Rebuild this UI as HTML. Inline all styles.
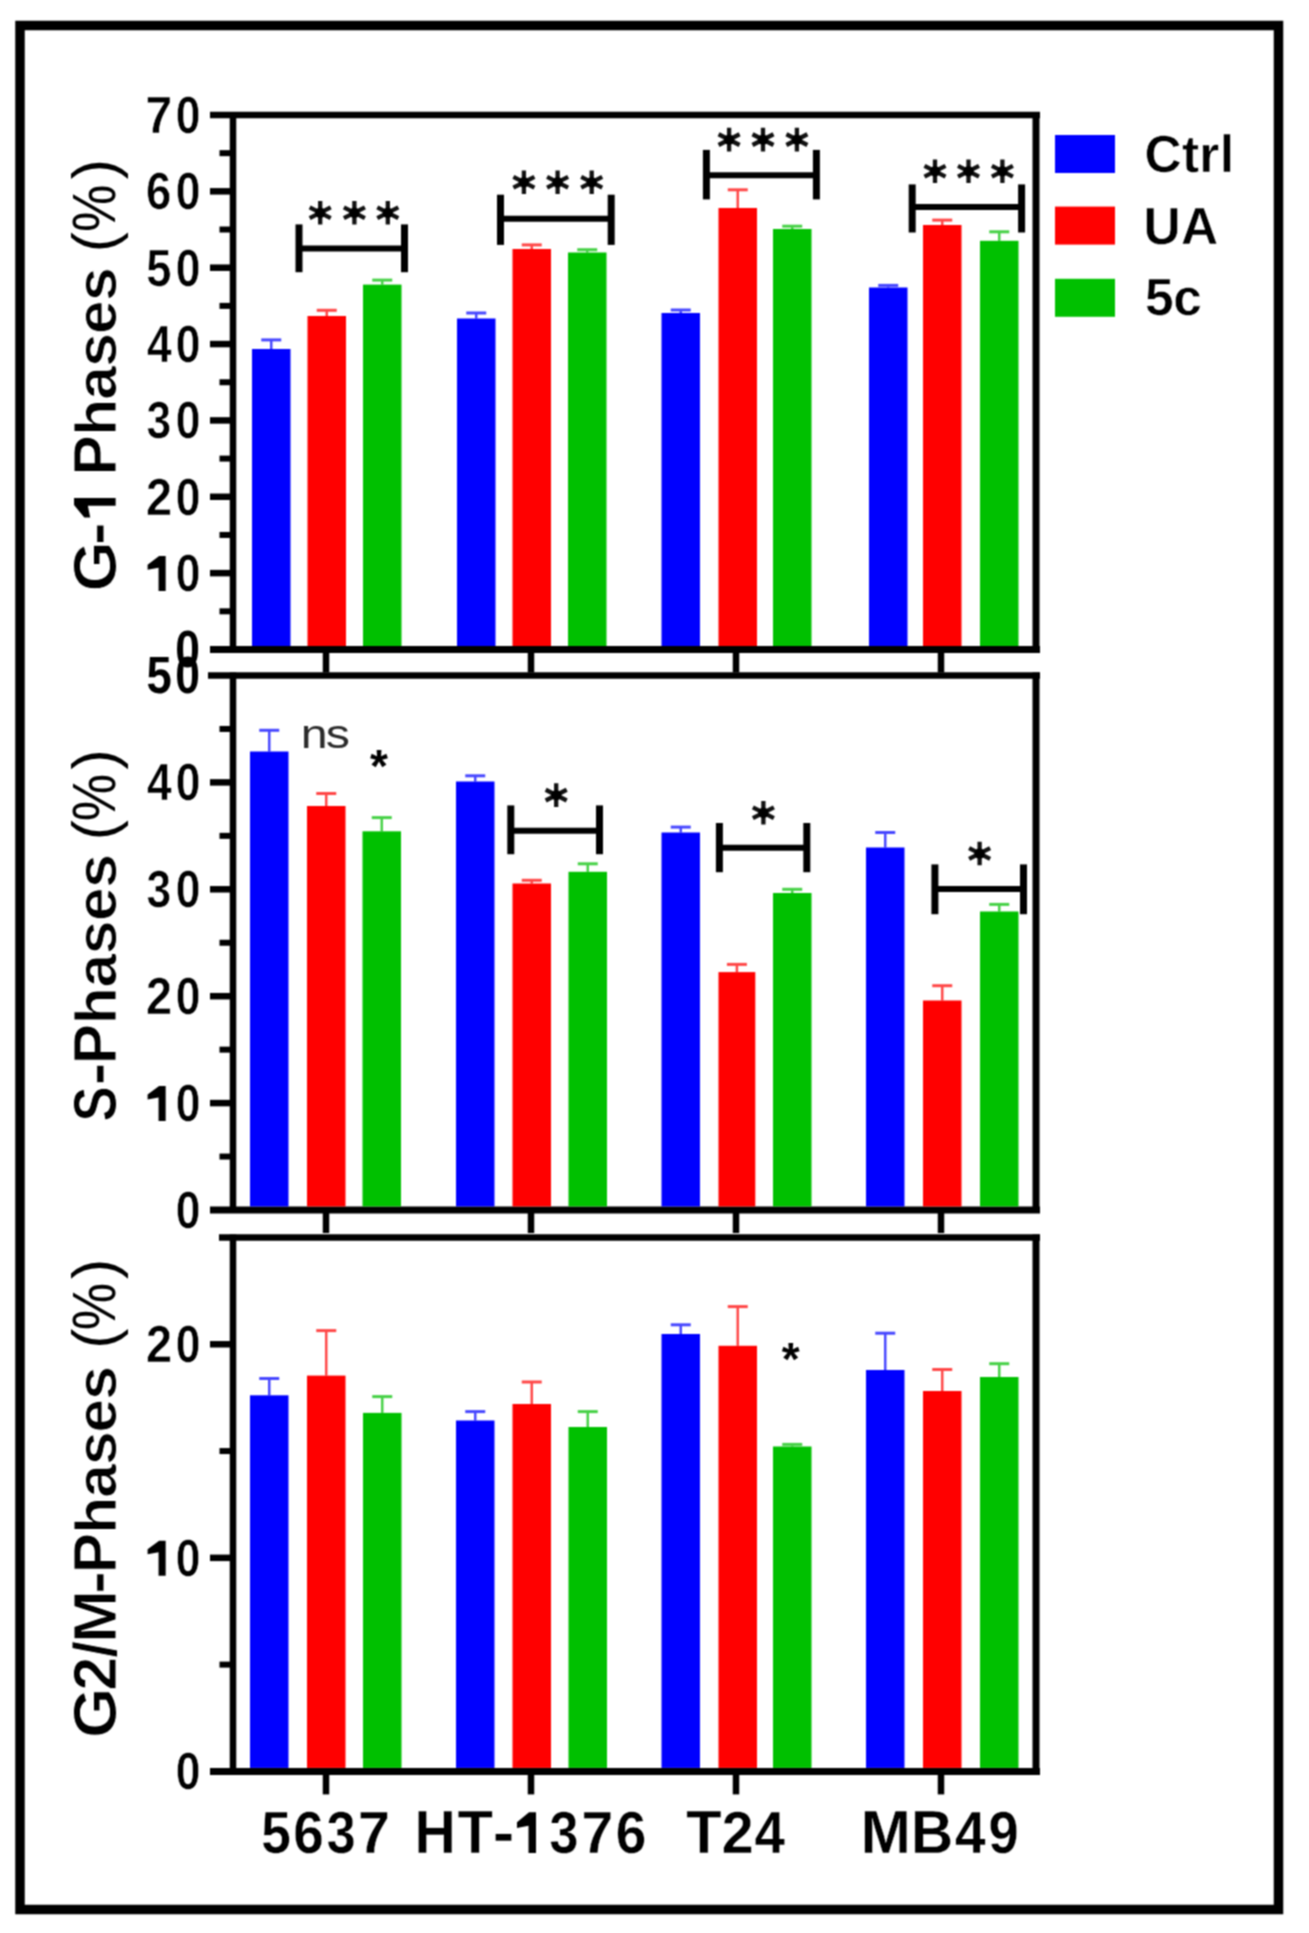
<!DOCTYPE html><html><head><meta charset="utf-8"><style>html,body{margin:0;padding:0;background:#fff;}svg{display:block}text{font-family:"Liberation Sans",sans-serif;}</style></head><body>
<svg width="1309" height="1933" viewBox="0 0 1309 1933">
<defs><filter id="bl" x="0" y="0" width="1309" height="1933" filterUnits="userSpaceOnUse" color-interpolation-filters="sRGB"><feConvolveMatrix order="3" kernelMatrix="1 2 1 2 4 2 1 2 1" divisor="16" edgeMode="duplicate"/></filter></defs>
<rect x="0" y="0" width="1309" height="1933" fill="#fff"/>
<g filter="url(#bl)">
<rect x="20" y="25.5" width="1258.5" height="1884" fill="none" stroke="#000" stroke-width="9.5"/>
<line x1="210" y1="115" x2="1040" y2="115" stroke="#000" stroke-width="6.5" stroke-linecap="butt"/>
<line x1="210" y1="649.5" x2="1040" y2="649.5" stroke="#000" stroke-width="7" stroke-linecap="butt"/>
<line x1="233" y1="112" x2="233" y2="652.5" stroke="#000" stroke-width="6.5" stroke-linecap="butt"/>
<line x1="1036" y1="112" x2="1036" y2="652.5" stroke="#000" stroke-width="7" stroke-linecap="butt"/>
<line x1="210" y1="573.14" x2="233" y2="573.14" stroke="#000" stroke-width="6.5" stroke-linecap="butt"/>
<line x1="210" y1="496.78" x2="233" y2="496.78" stroke="#000" stroke-width="6.5" stroke-linecap="butt"/>
<line x1="210" y1="420.41999999999996" x2="233" y2="420.41999999999996" stroke="#000" stroke-width="6.5" stroke-linecap="butt"/>
<line x1="210" y1="344.06" x2="233" y2="344.06" stroke="#000" stroke-width="6.5" stroke-linecap="butt"/>
<line x1="210" y1="267.7" x2="233" y2="267.7" stroke="#000" stroke-width="6.5" stroke-linecap="butt"/>
<line x1="210" y1="191.33999999999997" x2="233" y2="191.33999999999997" stroke="#000" stroke-width="6.5" stroke-linecap="butt"/>
<line x1="219.5" y1="611.32" x2="233" y2="611.32" stroke="#000" stroke-width="6" stroke-linecap="butt"/>
<line x1="219.5" y1="534.96" x2="233" y2="534.96" stroke="#000" stroke-width="6" stroke-linecap="butt"/>
<line x1="219.5" y1="458.6" x2="233" y2="458.6" stroke="#000" stroke-width="6" stroke-linecap="butt"/>
<line x1="219.5" y1="382.24" x2="233" y2="382.24" stroke="#000" stroke-width="6" stroke-linecap="butt"/>
<line x1="219.5" y1="305.88" x2="233" y2="305.88" stroke="#000" stroke-width="6" stroke-linecap="butt"/>
<line x1="219.5" y1="229.51999999999998" x2="233" y2="229.51999999999998" stroke="#000" stroke-width="6" stroke-linecap="butt"/>
<line x1="219.5" y1="153.15999999999997" x2="233" y2="153.15999999999997" stroke="#000" stroke-width="6" stroke-linecap="butt"/>
<g font-size="51" font-weight="bold" fill="#000"><text x="173.50" y="667.40" transform="matrix(0.8700,0,0,1.0000,24.394,0.000)">0</text></g>
<g font-size="51" font-weight="bold" fill="#000" stroke="#fff" stroke-width="0.6"><path d="M760,0L500,0L500,940L100,860L100,1060L520,1409L760,1409Z" transform="matrix(0.02739,0,0,-0.02490,144.861,591.040)"/><text x="173.80" y="591.04" transform="matrix(0.8700,0,0,1.0000,24.433,0.000)">0</text></g>
<g font-size="51" font-weight="bold" fill="#000" stroke="#fff" stroke-width="0.6"><text x="144.85" y="514.68" transform="matrix(0.9200,0,0,1.0000,12.712,0.000)">2</text><text x="173.80" y="514.68" transform="matrix(0.8700,0,0,1.0000,24.433,0.000)">0</text></g>
<g font-size="51" font-weight="bold" fill="#000" stroke="#fff" stroke-width="0.6"><text x="144.78" y="438.32" transform="matrix(0.8700,0,0,1.0000,20.622,0.000)">3</text><text x="173.80" y="438.32" transform="matrix(0.8700,0,0,1.0000,24.433,0.000)">0</text></g>
<g font-size="51" font-weight="bold" fill="#000" stroke="#fff" stroke-width="0.6"><text x="145.05" y="361.96" transform="matrix(0.8700,0,0,1.0000,20.733,0.000)">4</text><text x="173.80" y="361.96" transform="matrix(0.8700,0,0,1.0000,24.433,0.000)">0</text></g>
<g font-size="51" font-weight="bold" fill="#000" stroke="#fff" stroke-width="0.6"><text x="144.64" y="285.60" transform="matrix(0.8900,0,0,1.0000,17.478,0.000)">5</text><text x="173.80" y="285.60" transform="matrix(0.8700,0,0,1.0000,24.433,0.000)">0</text></g>
<g font-size="51" font-weight="bold" fill="#000" stroke="#fff" stroke-width="0.6"><text x="144.38" y="209.24" transform="matrix(0.8900,0,0,1.0000,17.443,0.000)">6</text><text x="173.80" y="209.24" transform="matrix(0.8700,0,0,1.0000,24.433,0.000)">0</text></g>
<g font-size="51" font-weight="bold" fill="#000" stroke="#fff" stroke-width="0.6"><text x="144.69" y="132.88" transform="matrix(0.9400,0,0,1.0000,9.531,0.000)">7</text><text x="173.80" y="132.88" transform="matrix(0.8700,0,0,1.0000,24.433,0.000)">0</text></g>
<line x1="326" y1="652.5" x2="326" y2="672.5" stroke="#000" stroke-width="6.5" stroke-linecap="butt"/>
<line x1="531" y1="652.5" x2="531" y2="672.5" stroke="#000" stroke-width="6.5" stroke-linecap="butt"/>
<line x1="736" y1="652.5" x2="736" y2="672.5" stroke="#000" stroke-width="6.5" stroke-linecap="butt"/>
<line x1="941" y1="652.5" x2="941" y2="672.5" stroke="#000" stroke-width="6.5" stroke-linecap="butt"/>
<line x1="208" y1="675.5" x2="1040" y2="675.5" stroke="#000" stroke-width="6.5" stroke-linecap="butt"/>
<line x1="210" y1="1210" x2="1040" y2="1210" stroke="#000" stroke-width="7" stroke-linecap="butt"/>
<line x1="233" y1="672.5" x2="233" y2="1213" stroke="#000" stroke-width="6.5" stroke-linecap="butt"/>
<line x1="1036" y1="672.5" x2="1036" y2="1213" stroke="#000" stroke-width="7" stroke-linecap="butt"/>
<line x1="210" y1="1103.1" x2="233" y2="1103.1" stroke="#000" stroke-width="6.5" stroke-linecap="butt"/>
<line x1="210" y1="996.2" x2="233" y2="996.2" stroke="#000" stroke-width="6.5" stroke-linecap="butt"/>
<line x1="210" y1="889.3" x2="233" y2="889.3" stroke="#000" stroke-width="6.5" stroke-linecap="butt"/>
<line x1="210" y1="782.4" x2="233" y2="782.4" stroke="#000" stroke-width="6.5" stroke-linecap="butt"/>
<line x1="219.5" y1="1156.55" x2="233" y2="1156.55" stroke="#000" stroke-width="6" stroke-linecap="butt"/>
<line x1="219.5" y1="1049.65" x2="233" y2="1049.65" stroke="#000" stroke-width="6" stroke-linecap="butt"/>
<line x1="219.5" y1="942.75" x2="233" y2="942.75" stroke="#000" stroke-width="6" stroke-linecap="butt"/>
<line x1="219.5" y1="835.85" x2="233" y2="835.85" stroke="#000" stroke-width="6" stroke-linecap="butt"/>
<line x1="219.5" y1="728.95" x2="233" y2="728.95" stroke="#000" stroke-width="6" stroke-linecap="butt"/>
<g font-size="51" font-weight="bold" fill="#000" stroke="#fff" stroke-width="0.6"><text x="173.80" y="1227.90" transform="matrix(0.8700,0,0,1.0000,24.433,0.000)">0</text></g>
<g font-size="51" font-weight="bold" fill="#000" stroke="#fff" stroke-width="0.6"><path d="M760,0L500,0L500,940L100,860L100,1060L520,1409L760,1409Z" transform="matrix(0.02739,0,0,-0.02490,144.861,1121.000)"/><text x="173.80" y="1121.00" transform="matrix(0.8700,0,0,1.0000,24.433,0.000)">0</text></g>
<g font-size="51" font-weight="bold" fill="#000" stroke="#fff" stroke-width="0.6"><text x="144.85" y="1014.10" transform="matrix(0.9200,0,0,1.0000,12.712,0.000)">2</text><text x="173.80" y="1014.10" transform="matrix(0.8700,0,0,1.0000,24.433,0.000)">0</text></g>
<g font-size="51" font-weight="bold" fill="#000" stroke="#fff" stroke-width="0.6"><text x="144.78" y="907.20" transform="matrix(0.8700,0,0,1.0000,20.622,0.000)">3</text><text x="173.80" y="907.20" transform="matrix(0.8700,0,0,1.0000,24.433,0.000)">0</text></g>
<g font-size="51" font-weight="bold" fill="#000" stroke="#fff" stroke-width="0.6"><text x="145.05" y="800.30" transform="matrix(0.8700,0,0,1.0000,20.733,0.000)">4</text><text x="173.80" y="800.30" transform="matrix(0.8700,0,0,1.0000,24.433,0.000)">0</text></g>
<g font-size="51" font-weight="bold" fill="#000"><text x="144.94" y="693.40" transform="matrix(0.8900,0,0,1.0000,17.511,0.000)">5</text><text x="173.50" y="693.40" transform="matrix(0.8700,0,0,1.0000,24.394,0.000)">0</text></g>
<line x1="326" y1="1213" x2="326" y2="1233" stroke="#000" stroke-width="6.5" stroke-linecap="butt"/>
<line x1="531" y1="1213" x2="531" y2="1233" stroke="#000" stroke-width="6.5" stroke-linecap="butt"/>
<line x1="736" y1="1213" x2="736" y2="1233" stroke="#000" stroke-width="6.5" stroke-linecap="butt"/>
<line x1="941" y1="1213" x2="941" y2="1233" stroke="#000" stroke-width="6.5" stroke-linecap="butt"/>
<line x1="219" y1="1237.5" x2="1040" y2="1237.5" stroke="#000" stroke-width="6.5" stroke-linecap="butt"/>
<line x1="210" y1="1771.4" x2="1040" y2="1771.4" stroke="#000" stroke-width="7" stroke-linecap="butt"/>
<line x1="233" y1="1234.5" x2="233" y2="1774.4" stroke="#000" stroke-width="6.5" stroke-linecap="butt"/>
<line x1="1036" y1="1234.5" x2="1036" y2="1774.4" stroke="#000" stroke-width="7" stroke-linecap="butt"/>
<line x1="210" y1="1557.8400000000001" x2="233" y2="1557.8400000000001" stroke="#000" stroke-width="6.5" stroke-linecap="butt"/>
<line x1="210" y1="1344.28" x2="233" y2="1344.28" stroke="#000" stroke-width="6.5" stroke-linecap="butt"/>
<line x1="219.5" y1="1664.6200000000001" x2="233" y2="1664.6200000000001" stroke="#000" stroke-width="6" stroke-linecap="butt"/>
<line x1="219.5" y1="1451.06" x2="233" y2="1451.06" stroke="#000" stroke-width="6" stroke-linecap="butt"/>
<g font-size="51" font-weight="bold" fill="#000" stroke="#fff" stroke-width="0.6"><text x="173.80" y="1789.30" transform="matrix(0.8700,0,0,1.0000,24.433,0.000)">0</text></g>
<g font-size="51" font-weight="bold" fill="#000" stroke="#fff" stroke-width="0.6"><path d="M760,0L500,0L500,940L100,860L100,1060L520,1409L760,1409Z" transform="matrix(0.02739,0,0,-0.02490,144.861,1575.740)"/><text x="173.80" y="1575.74" transform="matrix(0.8700,0,0,1.0000,24.433,0.000)">0</text></g>
<g font-size="51" font-weight="bold" fill="#000" stroke="#fff" stroke-width="0.6"><text x="144.85" y="1362.18" transform="matrix(0.9200,0,0,1.0000,12.712,0.000)">2</text><text x="173.80" y="1362.18" transform="matrix(0.8700,0,0,1.0000,24.433,0.000)">0</text></g>
<line x1="326" y1="1774.4" x2="326" y2="1794.4" stroke="#000" stroke-width="6.5" stroke-linecap="butt"/>
<line x1="531" y1="1774.4" x2="531" y2="1794.4" stroke="#000" stroke-width="6.5" stroke-linecap="butt"/>
<line x1="736" y1="1774.4" x2="736" y2="1794.4" stroke="#000" stroke-width="6.5" stroke-linecap="butt"/>
<line x1="941" y1="1774.4" x2="941" y2="1794.4" stroke="#000" stroke-width="6.5" stroke-linecap="butt"/>
<rect x="252" y="349" width="38.5" height="297.0" fill="#0000ff"/>
<g opacity="0.72">
<line x1="271.25" y1="349" x2="271.25" y2="339.9" stroke="#0000ff" stroke-width="2.5" stroke-linecap="butt"/>
<line x1="261.25" y1="339.9" x2="281.25" y2="339.9" stroke="#0000ff" stroke-width="3" stroke-linecap="butt"/>
</g>
<rect x="307.5" y="316" width="38.5" height="330.0" fill="#ff0000"/>
<g opacity="0.72">
<line x1="326.75" y1="316" x2="326.75" y2="310.3" stroke="#ff0000" stroke-width="2.5" stroke-linecap="butt"/>
<line x1="316.75" y1="310.3" x2="336.75" y2="310.3" stroke="#ff0000" stroke-width="3" stroke-linecap="butt"/>
</g>
<rect x="363" y="284.6" width="38.5" height="361.4" fill="#00c000"/>
<g opacity="0.72">
<line x1="382.25" y1="284.6" x2="382.25" y2="280.1" stroke="#00c000" stroke-width="2.5" stroke-linecap="butt"/>
<line x1="372.25" y1="280.1" x2="392.25" y2="280.1" stroke="#00c000" stroke-width="3" stroke-linecap="butt"/>
</g>
<rect x="457" y="318.5" width="38.5" height="327.5" fill="#0000ff"/>
<g opacity="0.72">
<line x1="476.25" y1="318.5" x2="476.25" y2="313" stroke="#0000ff" stroke-width="2.5" stroke-linecap="butt"/>
<line x1="466.25" y1="313" x2="486.25" y2="313" stroke="#0000ff" stroke-width="3" stroke-linecap="butt"/>
</g>
<rect x="512.5" y="249" width="38.5" height="397.0" fill="#ff0000"/>
<g opacity="0.72">
<line x1="531.75" y1="249" x2="531.75" y2="244.9" stroke="#ff0000" stroke-width="2.5" stroke-linecap="butt"/>
<line x1="521.75" y1="244.9" x2="541.75" y2="244.9" stroke="#ff0000" stroke-width="3" stroke-linecap="butt"/>
</g>
<rect x="568" y="252.5" width="38.5" height="393.5" fill="#00c000"/>
<g opacity="0.72">
<line x1="587.25" y1="252.5" x2="587.25" y2="249.7" stroke="#00c000" stroke-width="2.5" stroke-linecap="butt"/>
<line x1="577.25" y1="249.7" x2="597.25" y2="249.7" stroke="#00c000" stroke-width="3" stroke-linecap="butt"/>
</g>
<rect x="661.5" y="313" width="38.5" height="333.0" fill="#0000ff"/>
<g opacity="0.72">
<line x1="680.75" y1="313" x2="680.75" y2="310" stroke="#0000ff" stroke-width="2.5" stroke-linecap="butt"/>
<line x1="670.75" y1="310" x2="690.75" y2="310" stroke="#0000ff" stroke-width="3" stroke-linecap="butt"/>
</g>
<rect x="718.5" y="208" width="38.5" height="438.0" fill="#ff0000"/>
<g opacity="0.72">
<line x1="737.75" y1="208" x2="737.75" y2="189.8" stroke="#ff0000" stroke-width="2.5" stroke-linecap="butt"/>
<line x1="727.75" y1="189.8" x2="747.75" y2="189.8" stroke="#ff0000" stroke-width="3" stroke-linecap="butt"/>
</g>
<rect x="773" y="229" width="38.5" height="417.0" fill="#00c000"/>
<g opacity="0.72">
<line x1="792.25" y1="229" x2="792.25" y2="226.2" stroke="#00c000" stroke-width="2.5" stroke-linecap="butt"/>
<line x1="782.25" y1="226.2" x2="802.25" y2="226.2" stroke="#00c000" stroke-width="3" stroke-linecap="butt"/>
</g>
<rect x="869" y="287.5" width="38.5" height="358.5" fill="#0000ff"/>
<g opacity="0.72">
<line x1="888.25" y1="287.5" x2="888.25" y2="285.4" stroke="#0000ff" stroke-width="2.5" stroke-linecap="butt"/>
<line x1="878.25" y1="285.4" x2="898.25" y2="285.4" stroke="#0000ff" stroke-width="3" stroke-linecap="butt"/>
</g>
<rect x="923" y="225" width="38.5" height="421.0" fill="#ff0000"/>
<g opacity="0.72">
<line x1="942.25" y1="225" x2="942.25" y2="220.1" stroke="#ff0000" stroke-width="2.5" stroke-linecap="butt"/>
<line x1="932.25" y1="220.1" x2="952.25" y2="220.1" stroke="#ff0000" stroke-width="3" stroke-linecap="butt"/>
</g>
<rect x="980" y="240.8" width="38.5" height="405.2" fill="#00c000"/>
<g opacity="0.72">
<line x1="999.25" y1="240.8" x2="999.25" y2="231.8" stroke="#00c000" stroke-width="2.5" stroke-linecap="butt"/>
<line x1="989.25" y1="231.8" x2="1009.25" y2="231.8" stroke="#00c000" stroke-width="3" stroke-linecap="butt"/>
</g>
<rect x="250" y="751.5" width="38.5" height="455.0" fill="#0000ff"/>
<g opacity="0.72">
<line x1="269.25" y1="751.5" x2="269.25" y2="730.3" stroke="#0000ff" stroke-width="2.5" stroke-linecap="butt"/>
<line x1="259.25" y1="730.3" x2="279.25" y2="730.3" stroke="#0000ff" stroke-width="3" stroke-linecap="butt"/>
</g>
<rect x="307" y="806" width="38.5" height="400.5" fill="#ff0000"/>
<g opacity="0.72">
<line x1="326.25" y1="806" x2="326.25" y2="793.5" stroke="#ff0000" stroke-width="2.5" stroke-linecap="butt"/>
<line x1="316.25" y1="793.5" x2="336.25" y2="793.5" stroke="#ff0000" stroke-width="3" stroke-linecap="butt"/>
</g>
<rect x="362.5" y="831.3" width="38.5" height="375.20000000000005" fill="#00c000"/>
<g opacity="0.72">
<line x1="381.75" y1="831.3" x2="381.75" y2="817.6" stroke="#00c000" stroke-width="2.5" stroke-linecap="butt"/>
<line x1="371.75" y1="817.6" x2="391.75" y2="817.6" stroke="#00c000" stroke-width="3" stroke-linecap="butt"/>
</g>
<rect x="456" y="781.5" width="38.5" height="425.0" fill="#0000ff"/>
<g opacity="0.72">
<line x1="475.25" y1="781.5" x2="475.25" y2="775.8" stroke="#0000ff" stroke-width="2.5" stroke-linecap="butt"/>
<line x1="465.25" y1="775.8" x2="485.25" y2="775.8" stroke="#0000ff" stroke-width="3" stroke-linecap="butt"/>
</g>
<rect x="512.5" y="883.5" width="38.5" height="323.0" fill="#ff0000"/>
<g opacity="0.72">
<line x1="531.75" y1="883.5" x2="531.75" y2="880.3" stroke="#ff0000" stroke-width="2.5" stroke-linecap="butt"/>
<line x1="521.75" y1="880.3" x2="541.75" y2="880.3" stroke="#ff0000" stroke-width="3" stroke-linecap="butt"/>
</g>
<rect x="568.5" y="871.8" width="38.5" height="334.70000000000005" fill="#00c000"/>
<g opacity="0.72">
<line x1="587.75" y1="871.8" x2="587.75" y2="863.8" stroke="#00c000" stroke-width="2.5" stroke-linecap="butt"/>
<line x1="577.75" y1="863.8" x2="597.75" y2="863.8" stroke="#00c000" stroke-width="3" stroke-linecap="butt"/>
</g>
<rect x="661.5" y="832.5" width="38.5" height="374.0" fill="#0000ff"/>
<g opacity="0.72">
<line x1="680.75" y1="832.5" x2="680.75" y2="827.1" stroke="#0000ff" stroke-width="2.5" stroke-linecap="butt"/>
<line x1="670.75" y1="827.1" x2="690.75" y2="827.1" stroke="#0000ff" stroke-width="3" stroke-linecap="butt"/>
</g>
<rect x="718.5" y="972.1" width="36.8" height="234.39999999999998" fill="#ff0000"/>
<g opacity="0.72">
<line x1="736.9" y1="972.1" x2="736.9" y2="964.4" stroke="#ff0000" stroke-width="2.5" stroke-linecap="butt"/>
<line x1="726.9" y1="964.4" x2="746.9" y2="964.4" stroke="#ff0000" stroke-width="3" stroke-linecap="butt"/>
</g>
<rect x="773" y="893" width="38.5" height="313.5" fill="#00c000"/>
<g opacity="0.72">
<line x1="792.25" y1="893" x2="792.25" y2="889.3" stroke="#00c000" stroke-width="2.5" stroke-linecap="butt"/>
<line x1="782.25" y1="889.3" x2="802.25" y2="889.3" stroke="#00c000" stroke-width="3" stroke-linecap="butt"/>
</g>
<rect x="866" y="847.5" width="38.5" height="359.0" fill="#0000ff"/>
<g opacity="0.72">
<line x1="885.25" y1="847.5" x2="885.25" y2="832.5" stroke="#0000ff" stroke-width="2.5" stroke-linecap="butt"/>
<line x1="875.25" y1="832.5" x2="895.25" y2="832.5" stroke="#0000ff" stroke-width="3" stroke-linecap="butt"/>
</g>
<rect x="923" y="1000.5" width="38.5" height="206.0" fill="#ff0000"/>
<g opacity="0.72">
<line x1="942.25" y1="1000.5" x2="942.25" y2="985.7" stroke="#ff0000" stroke-width="2.5" stroke-linecap="butt"/>
<line x1="932.25" y1="985.7" x2="952.25" y2="985.7" stroke="#ff0000" stroke-width="3" stroke-linecap="butt"/>
</g>
<rect x="980" y="911.5" width="38.5" height="295.0" fill="#00c000"/>
<g opacity="0.72">
<line x1="999.25" y1="911.5" x2="999.25" y2="904.4" stroke="#00c000" stroke-width="2.5" stroke-linecap="butt"/>
<line x1="989.25" y1="904.4" x2="1009.25" y2="904.4" stroke="#00c000" stroke-width="3" stroke-linecap="butt"/>
</g>
<rect x="250" y="1395.3" width="38.5" height="372.60000000000014" fill="#0000ff"/>
<g opacity="0.72">
<line x1="269.25" y1="1395.3" x2="269.25" y2="1378.5" stroke="#0000ff" stroke-width="2.5" stroke-linecap="butt"/>
<line x1="259.25" y1="1378.5" x2="279.25" y2="1378.5" stroke="#0000ff" stroke-width="3" stroke-linecap="butt"/>
</g>
<rect x="307" y="1375.6" width="38.5" height="392.3000000000002" fill="#ff0000"/>
<g opacity="0.72">
<line x1="326.25" y1="1375.6" x2="326.25" y2="1330.6" stroke="#ff0000" stroke-width="2.5" stroke-linecap="butt"/>
<line x1="316.25" y1="1330.6" x2="336.25" y2="1330.6" stroke="#ff0000" stroke-width="3" stroke-linecap="butt"/>
</g>
<rect x="363" y="1412.9" width="38.5" height="355.0" fill="#00c000"/>
<g opacity="0.72">
<line x1="382.25" y1="1412.9" x2="382.25" y2="1396.6" stroke="#00c000" stroke-width="2.5" stroke-linecap="butt"/>
<line x1="372.25" y1="1396.6" x2="392.25" y2="1396.6" stroke="#00c000" stroke-width="3" stroke-linecap="butt"/>
</g>
<rect x="456" y="1420.5" width="38.5" height="347.4000000000001" fill="#0000ff"/>
<g opacity="0.72">
<line x1="475.25" y1="1420.5" x2="475.25" y2="1411.6" stroke="#0000ff" stroke-width="2.5" stroke-linecap="butt"/>
<line x1="465.25" y1="1411.6" x2="485.25" y2="1411.6" stroke="#0000ff" stroke-width="3" stroke-linecap="butt"/>
</g>
<rect x="512.5" y="1404" width="38.5" height="363.9000000000001" fill="#ff0000"/>
<g opacity="0.72">
<line x1="531.75" y1="1404" x2="531.75" y2="1382" stroke="#ff0000" stroke-width="2.5" stroke-linecap="butt"/>
<line x1="521.75" y1="1382" x2="541.75" y2="1382" stroke="#ff0000" stroke-width="3" stroke-linecap="butt"/>
</g>
<rect x="568.5" y="1427" width="38.5" height="340.9000000000001" fill="#00c000"/>
<g opacity="0.72">
<line x1="587.75" y1="1427" x2="587.75" y2="1411.6" stroke="#00c000" stroke-width="2.5" stroke-linecap="butt"/>
<line x1="577.75" y1="1411.6" x2="597.75" y2="1411.6" stroke="#00c000" stroke-width="3" stroke-linecap="butt"/>
</g>
<rect x="661.5" y="1334" width="38.5" height="433.9000000000001" fill="#0000ff"/>
<g opacity="0.72">
<line x1="680.75" y1="1334" x2="680.75" y2="1324.8" stroke="#0000ff" stroke-width="2.5" stroke-linecap="butt"/>
<line x1="670.75" y1="1324.8" x2="690.75" y2="1324.8" stroke="#0000ff" stroke-width="3" stroke-linecap="butt"/>
</g>
<rect x="718.5" y="1345.8" width="38.5" height="422.10000000000014" fill="#ff0000"/>
<g opacity="0.72">
<line x1="737.75" y1="1345.8" x2="737.75" y2="1306.6" stroke="#ff0000" stroke-width="2.5" stroke-linecap="butt"/>
<line x1="727.75" y1="1306.6" x2="747.75" y2="1306.6" stroke="#ff0000" stroke-width="3" stroke-linecap="butt"/>
</g>
<rect x="773" y="1446.5" width="38.5" height="321.4000000000001" fill="#00c000"/>
<g opacity="0.72">
<line x1="792.25" y1="1446.5" x2="792.25" y2="1444.4" stroke="#00c000" stroke-width="2.5" stroke-linecap="butt"/>
<line x1="782.25" y1="1444.4" x2="802.25" y2="1444.4" stroke="#00c000" stroke-width="3" stroke-linecap="butt"/>
</g>
<rect x="866" y="1370" width="38.5" height="397.9000000000001" fill="#0000ff"/>
<g opacity="0.72">
<line x1="885.25" y1="1370" x2="885.25" y2="1333.2" stroke="#0000ff" stroke-width="2.5" stroke-linecap="butt"/>
<line x1="875.25" y1="1333.2" x2="895.25" y2="1333.2" stroke="#0000ff" stroke-width="3" stroke-linecap="butt"/>
</g>
<rect x="923" y="1391" width="38.5" height="376.9000000000001" fill="#ff0000"/>
<g opacity="0.72">
<line x1="942.25" y1="1391" x2="942.25" y2="1369.5" stroke="#ff0000" stroke-width="2.5" stroke-linecap="butt"/>
<line x1="932.25" y1="1369.5" x2="952.25" y2="1369.5" stroke="#ff0000" stroke-width="3" stroke-linecap="butt"/>
</g>
<rect x="980" y="1377" width="38.5" height="390.9000000000001" fill="#00c000"/>
<g opacity="0.72">
<line x1="999.25" y1="1377" x2="999.25" y2="1363.7" stroke="#00c000" stroke-width="2.5" stroke-linecap="butt"/>
<line x1="989.25" y1="1363.7" x2="1009.25" y2="1363.7" stroke="#00c000" stroke-width="3" stroke-linecap="butt"/>
</g>
<line x1="299" y1="224.4" x2="299" y2="272.2" stroke="#000" stroke-width="7" stroke-linecap="butt"/>
<line x1="404.5" y1="224.4" x2="404.5" y2="272.2" stroke="#000" stroke-width="7" stroke-linecap="butt"/>
<line x1="299" y1="248.5" x2="404.5" y2="248.5" stroke="#000" stroke-width="6" stroke-linecap="butt"/>
<path d="M320.20,200.90L320.20,224.50M309.69,207.34L330.71,218.06M330.71,207.34L309.69,218.06" stroke="#111" stroke-width="4.3" fill="none"/>
<circle cx="320.2" cy="212.7" r="5.2" fill="#000"/>
<path d="M354.40,200.90L354.40,224.50M343.89,207.34L364.91,218.06M364.91,207.34L343.89,218.06" stroke="#111" stroke-width="4.3" fill="none"/>
<circle cx="354.4" cy="212.7" r="5.2" fill="#000"/>
<path d="M387.80,200.90L387.80,224.50M377.29,207.34L398.31,218.06M398.31,207.34L377.29,218.06" stroke="#111" stroke-width="4.3" fill="none"/>
<circle cx="387.8" cy="212.7" r="5.2" fill="#000"/>
<line x1="500.5" y1="194.7" x2="500.5" y2="244.9" stroke="#000" stroke-width="7" stroke-linecap="butt"/>
<line x1="611.2" y1="194.7" x2="611.2" y2="244.9" stroke="#000" stroke-width="7" stroke-linecap="butt"/>
<line x1="500.5" y1="218.8" x2="611.2" y2="218.8" stroke="#000" stroke-width="6" stroke-linecap="butt"/>
<path d="M523.90,170.50L523.90,194.10M513.39,176.94L534.41,187.66M534.41,176.94L513.39,187.66" stroke="#111" stroke-width="4.3" fill="none"/>
<circle cx="523.9" cy="182.3" r="5.2" fill="#000"/>
<path d="M557.60,170.50L557.60,194.10M547.09,176.94L568.11,187.66M568.11,176.94L547.09,187.66" stroke="#111" stroke-width="4.3" fill="none"/>
<circle cx="557.6" cy="182.3" r="5.2" fill="#000"/>
<path d="M591.70,170.50L591.70,194.10M581.19,176.94L602.21,187.66M602.21,176.94L581.19,187.66" stroke="#111" stroke-width="4.3" fill="none"/>
<circle cx="591.7" cy="182.3" r="5.2" fill="#000"/>
<line x1="706.4" y1="149.9" x2="706.4" y2="199.4" stroke="#000" stroke-width="7" stroke-linecap="butt"/>
<line x1="816.4" y1="149.9" x2="816.4" y2="199.4" stroke="#000" stroke-width="7" stroke-linecap="butt"/>
<line x1="706.4" y1="175.3" x2="816.4" y2="175.3" stroke="#000" stroke-width="6" stroke-linecap="butt"/>
<path d="M729.10,127.80L729.10,151.40M718.59,134.24L739.61,144.96M739.61,134.24L718.59,144.96" stroke="#111" stroke-width="4.3" fill="none"/>
<circle cx="729.1" cy="139.6" r="5.2" fill="#000"/>
<path d="M763.00,127.80L763.00,151.40M752.49,134.24L773.51,144.96M773.51,134.24L752.49,144.96" stroke="#111" stroke-width="4.3" fill="none"/>
<circle cx="763" cy="139.6" r="5.2" fill="#000"/>
<path d="M796.90,127.80L796.90,151.40M786.39,134.24L807.41,144.96M807.41,134.24L786.39,144.96" stroke="#111" stroke-width="4.3" fill="none"/>
<circle cx="796.9" cy="139.6" r="5.2" fill="#000"/>
<line x1="912.2" y1="184.4" x2="912.2" y2="232.5" stroke="#000" stroke-width="7" stroke-linecap="butt"/>
<line x1="1021.6" y1="184.4" x2="1021.6" y2="232.5" stroke="#000" stroke-width="7" stroke-linecap="butt"/>
<line x1="912.2" y1="207.1" x2="1021.6" y2="207.1" stroke="#000" stroke-width="6" stroke-linecap="butt"/>
<path d="M935.00,159.50L935.00,183.10M924.49,165.94L945.51,176.66M945.51,165.94L924.49,176.66" stroke="#111" stroke-width="4.3" fill="none"/>
<circle cx="935" cy="171.3" r="5.2" fill="#000"/>
<path d="M968.50,159.50L968.50,183.10M957.99,165.94L979.01,176.66M979.01,165.94L957.99,176.66" stroke="#111" stroke-width="4.3" fill="none"/>
<circle cx="968.5" cy="171.3" r="5.2" fill="#000"/>
<path d="M1002.40,159.50L1002.40,183.10M991.89,165.94L1012.91,176.66M1012.91,165.94L991.89,176.66" stroke="#111" stroke-width="4.3" fill="none"/>
<circle cx="1002.4" cy="171.3" r="5.2" fill="#000"/>
<line x1="510.8" y1="805.4" x2="510.8" y2="854.2" stroke="#000" stroke-width="7" stroke-linecap="butt"/>
<line x1="599.5" y1="805.4" x2="599.5" y2="854.2" stroke="#000" stroke-width="7" stroke-linecap="butt"/>
<line x1="510.8" y1="830.8" x2="599.5" y2="830.8" stroke="#000" stroke-width="6" stroke-linecap="butt"/>
<path d="M556.20,783.30L556.20,806.90M545.69,789.74L566.71,800.46M566.71,789.74L545.69,800.46" stroke="#111" stroke-width="4.3" fill="none"/>
<circle cx="556.2" cy="795.1" r="5.2" fill="#000"/>
<line x1="719.4" y1="823" x2="719.4" y2="872.2" stroke="#000" stroke-width="7" stroke-linecap="butt"/>
<line x1="806.8" y1="823" x2="806.8" y2="872.2" stroke="#000" stroke-width="7" stroke-linecap="butt"/>
<line x1="719.4" y1="847.8" x2="806.8" y2="847.8" stroke="#000" stroke-width="6" stroke-linecap="butt"/>
<path d="M763.40,800.90L763.40,824.50M752.89,807.34L773.91,818.06M773.91,807.34L752.89,818.06" stroke="#111" stroke-width="4.3" fill="none"/>
<circle cx="763.4" cy="812.7" r="5.2" fill="#000"/>
<line x1="934.9" y1="864.4" x2="934.9" y2="914.2" stroke="#000" stroke-width="7" stroke-linecap="butt"/>
<line x1="1023.5" y1="864.4" x2="1023.5" y2="914.2" stroke="#000" stroke-width="7" stroke-linecap="butt"/>
<line x1="934.9" y1="889.1" x2="1023.5" y2="889.1" stroke="#000" stroke-width="6" stroke-linecap="butt"/>
<path d="M979.60,841.70L979.60,865.30M969.09,848.14L990.11,858.86M990.11,848.14L969.09,858.86" stroke="#111" stroke-width="4.3" fill="none"/>
<circle cx="979.6" cy="853.5" r="5.2" fill="#000"/>
<g font-size="41" font-weight="normal" fill="#2a2a2a"><text x="302.74" y="748.20" transform="matrix(1.1800,0,0,1.0000,-56.552,0.000)">n</text><text x="327.57" y="748.20" transform="matrix(1.1800,0,0,1.0000,-60.777,0.000)">s</text></g>
<text x="379.0" y="781.9" font-size="46" font-weight="bold" text-anchor="middle">*</text>
<text x="790.6" y="1374.6" font-size="46" font-weight="bold" text-anchor="middle">*</text>
<rect x="1055" y="135" width="60" height="38" fill="#0000ff"/>
<g font-size="51.5" font-weight="bold" fill="#000" stroke="#fff" stroke-width="0.6"><text x="1144.59" y="172.10">C</text><text x="1182.00" y="172.10">t</text><text x="1199.37" y="172.10">r</text><text x="1219.64" y="172.10">l</text></g>
<rect x="1055" y="206.6" width="60" height="38" fill="#ff0000"/>
<g font-size="51.5" font-weight="bold" fill="#000" stroke="#fff" stroke-width="0.6"><text x="1143.61" y="243.80">U</text><text x="1180.97" y="243.80">A</text></g>
<rect x="1055" y="278.8" width="60" height="38" fill="#00c000"/>
<g font-size="51.5" font-weight="bold" fill="#000" stroke="#fff" stroke-width="0.6"><text x="1145.12" y="314.80">5</text><text x="1173.17" y="314.80">c</text></g>
<g transform="translate(115.2,0) rotate(-90)"><g font-size="60.5" font-weight="bold" fill="#000" stroke="#fff" stroke-width="0.9"><text x="-590.00" y="0.45" transform="matrix(1.0700,0,0,1.0000,39.698,0.000)">G</text><text x="-543.71" y="0.45" transform="matrix(1.1500,0,0,1.0000,80.050,0.000)">-</text><path d="M760,0L500,0L500,940L100,860L100,1060L520,1409L760,1409Z" transform="matrix(0.02954,0,0,-0.02954,-520.436,0.450)"/><text x="-475.42" y="0.45">P</text><text x="-435.84" y="0.45" transform="matrix(1.0000,0,0,0.9550,-0.000,0.020)">h</text><text x="-399.65" y="0.45" transform="matrix(1.0000,0,0,0.9550,-0.000,0.020)">a</text><text x="-366.77" y="0.45" transform="matrix(1.0000,0,0,0.9550,-0.000,0.020)">s</text><text x="-333.89" y="0.45" transform="matrix(1.0000,0,0,0.9550,-0.000,0.020)">e</text><text x="-301.02" y="0.45" transform="matrix(1.0000,0,0,0.9550,-0.000,0.020)">s</text></g><g font-size="60.5" font-weight="normal" fill="#000"><text x="-252.25" y="0.00">(</text><text x="-235.35" y="0.00" transform="matrix(0.8800,0,0,1.0000,-25.014,0.000)">%</text><text x="-179.20" y="0.00">)</text></g></g>
<g transform="translate(115.2,0) rotate(-90)"><g font-size="60.5" font-weight="bold" fill="#000" stroke="#fff" stroke-width="0.9"><text x="-1124.05" y="0.45" transform="matrix(0.8700,0,0,1.0000,-143.544,0.000)">S</text><text x="-1084.04" y="0.45" transform="matrix(1.1500,0,0,1.0000,161.100,0.000)">-</text><text x="-1064.24" y="0.45">P</text><text x="-1024.23" y="0.45" transform="matrix(1.0000,0,0,0.9550,-0.000,0.020)">h</text><text x="-987.62" y="0.45" transform="matrix(1.0000,0,0,0.9550,-0.000,0.020)">a</text><text x="-954.32" y="0.45" transform="matrix(1.0000,0,0,0.9550,-0.000,0.020)">s</text><text x="-921.02" y="0.45" transform="matrix(1.0000,0,0,0.9550,-0.000,0.020)">e</text><text x="-887.72" y="0.45" transform="matrix(1.0000,0,0,0.9550,-0.000,0.020)">s</text></g><g font-size="60.5" font-weight="normal" fill="#000"><text x="-840.25" y="0.00">(</text><text x="-824.45" y="0.00" transform="matrix(0.8800,0,0,1.0000,-95.706,0.000)">%</text><text x="-769.40" y="0.00">)</text></g></g>
<g transform="translate(115.2,0) rotate(-90)"><g font-size="60.5" font-weight="bold" fill="#000" stroke="#fff" stroke-width="0.9"><text x="-1736.50" y="0.45" transform="matrix(1.0700,0,0,1.0000,119.953,0.000)">G</text><text x="-1690.40" y="0.45">2</text><text x="-1657.70" y="0.45">/</text><text x="-1641.84" y="0.45" transform="matrix(1.0500,0,0,1.0000,80.832,0.000)">M</text><text x="-1592.40" y="0.45" transform="matrix(1.1500,0,0,1.0000,237.353,0.000)">-</text><text x="-1573.20" y="0.45">P</text><text x="-1533.80" y="0.45" transform="matrix(1.0000,0,0,0.9550,-0.000,0.020)">h</text><text x="-1497.80" y="0.45" transform="matrix(1.0000,0,0,0.9550,-0.000,0.020)">a</text><text x="-1465.11" y="0.45" transform="matrix(1.0000,0,0,0.9550,-0.000,0.020)">s</text><text x="-1432.41" y="0.45" transform="matrix(1.0000,0,0,0.9550,-0.000,0.020)">e</text><text x="-1399.72" y="0.45" transform="matrix(1.0000,0,0,0.9550,-0.000,0.020)">s</text></g><g font-size="60.5" font-weight="normal" fill="#000"><text x="-1348.75" y="0.00">(</text><text x="-1333.45" y="0.00" transform="matrix(0.8800,0,0,1.0000,-156.786,0.000)">%</text><text x="-1278.90" y="0.00">)</text></g></g>
<g font-size="59" font-weight="bold" fill="#000" stroke="#fff" stroke-width="0.4"><text x="259.52" y="1852.90" transform="matrix(0.9000,0,0,1.0000,27.601,0.000)">5</text><text x="292.14" y="1852.90" transform="matrix(0.9300,0,0,1.0000,21.599,0.000)">6</text><text x="324.77" y="1852.90" transform="matrix(0.8800,0,0,1.0000,40.894,0.000)">3</text><text x="357.40" y="1852.90" transform="matrix(0.9700,0,0,1.0000,11.213,0.000)">7</text></g>
<g font-size="59" font-weight="bold" fill="#000" stroke="#fff" stroke-width="0.4"><text x="413.83" y="1852.90" transform="matrix(0.9700,0,0,1.0450,13.054,-83.380)">H</text><text x="457.10" y="1852.90" transform="matrix(0.9800,0,0,1.0450,9.503,-83.380)">T</text><text x="493.80" y="1852.90" transform="matrix(1.1000,0,0,1.0000,-50.359,0.000)">-</text><path d="M760,0L500,0L500,940L100,860L100,1060L520,1409L760,1409Z" transform="matrix(0.02881,0,0,-0.02881,514.103,1852.900)"/><text x="547.57" y="1852.90" transform="matrix(0.8800,0,0,1.0000,67.631,0.000)">3</text><text x="581.05" y="1852.90" transform="matrix(0.9700,0,0,1.0000,17.923,0.000)">7</text><text x="614.52" y="1852.90" transform="matrix(0.9300,0,0,1.0000,44.166,0.000)">6</text></g>
<g font-size="59" font-weight="bold" fill="#000" stroke="#fff" stroke-width="0.4"><text x="685.79" y="1852.90" transform="matrix(0.9800,0,0,1.0450,14.076,-83.380)">T</text><text x="721.16" y="1852.90" transform="matrix(0.9700,0,0,1.0000,22.122,0.000)">2</text><text x="753.31" y="1852.90" transform="matrix(0.9300,0,0,1.0000,53.900,0.000)">4</text></g>
<g font-size="59" font-weight="bold" fill="#000" stroke="#fff" stroke-width="0.4"><text x="861.27" y="1852.90" transform="matrix(1.0200,0,0,1.0450,-17.717,-83.380)">M</text><text x="910.88" y="1852.90" transform="matrix(0.9900,0,0,1.0450,9.328,-83.380)">B</text><text x="953.94" y="1852.90" transform="matrix(0.9300,0,0,1.0000,67.945,0.000)">4</text><text x="987.22" y="1852.90" transform="matrix(0.9200,0,0,1.0000,80.284,0.000)">9</text></g>
</g></svg></body></html>
